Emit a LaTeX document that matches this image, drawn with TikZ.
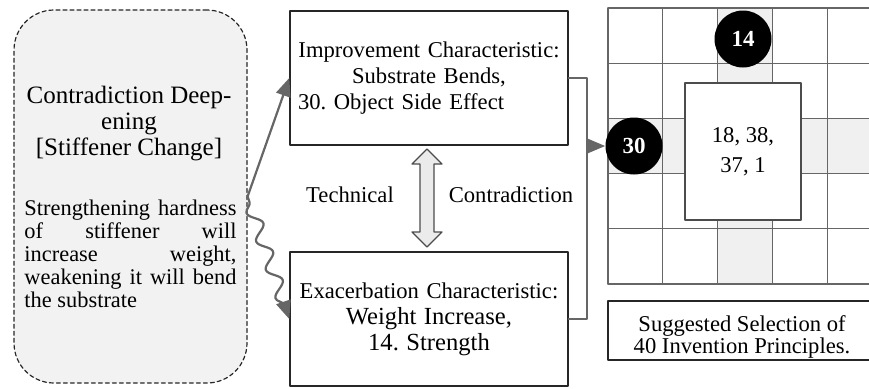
\documentclass[tikz,border=0pt]{standalone}
\usepackage{fontspec}
\setmainfont{Liberation Serif}
\frenchspacing
\usetikzlibrary{arrows,decorations.pathmorphing,calc}

\begin{document}
\begin{tikzpicture}[line cap=round,line join=round,>=triangle 45,x=0.5pt,y=-0.5pt,
  box/.style={draw=black!85,line width=0.7pt,inner sep=4pt,text width=131pt,minimum height=67pt,align=center,font=\fontsize{11.3}{13}\selectfont},
  conn/.style={draw=black!60,line width=1.1pt},
  cell/.style={draw=black!60,line width=0.6pt},
  badge/.style={circle,fill=black,text=white,minimum size=28.5pt,inner sep=0pt,font=\fontsize{11.5}{12}\selectfont\bfseries}]
\useasboundingbox (0,0) rectangle (869,388);
\clip (0,0) rectangle (869,388);
\node[draw=black!85,fill=black!5,line width=0.6pt,dash pattern=on 2pt off 1.5pt,rounded corners=20pt,minimum width=116.5pt,minimum height=186.5pt] (src) at (130.5,196.5) {};
\node[align=center,font=\fontsize{12.5}{13}\selectfont] (srctitle) at (129,123.5) {Contradiction Deep-\\ening\\{[}Stiffener Change{]}};
\node[text width=106pt,align=justify,inner sep=0pt,font=\fontsize{11.2}{11.5}\selectfont] (srcbody) at (130.5,254) {Strengthening hardness\linebreak of stiffener will\linebreak increase weight,\linebreak weakening it will bend\linebreak the substrate};
\node[box] (imp) at (429,78) {Improvement Characteristic:\\Substrate Bends,\\\makebox[131pt][l]{30. Object Side Effect}};
\node[box] (exa) at (429,319) {Exacerbation Characteristic:\\{\fontsize{12.3}{14}\selectfont Weight Increase,}\\{\fontsize{12.3}{14}\selectfont 14. Strength}};
\node[font=\fontsize{11.3}{13}\selectfont] (tech) at (350,195) {Technical};
\node[font=\fontsize{11.3}{13}\selectfont] (contr) at (511,195) {Contradiction};
\coordinate (mid) at (427,198);
\draw[draw=black!70,fill=black!8,line width=0.6pt] ($(mid)+(0,-49)$) -- ++(15,15) -- ++(-8,0) -- ++(0,68) -- ++(8,0) -- ++(-15,15) -- ++(-15,-15) -- ++(8,0) -- ++(0,-68) -- ++(-8,0) -- cycle;
\fill[black!6] (717.6,8) rectangle (772.4,284);
\fill[black!6] (608,118.4) rectangle (882,173.6);
\foreach \i in {0,...,5} {
  \draw[cell] (608+54.8*\i,8) -- (608+54.8*\i,284);
  \draw[cell] (608,8+55.2*\i) -- (882,8+55.2*\i);
}
\node[draw=black!70,fill=white,line width=0.6pt,minimum width=58pt,minimum height=68.5pt,align=center,font=\fontsize{11.3}{15}\selectfont] (core) at (743,151.5) {18, 38,\\37, 1};
\node[badge] (c14) at (743,39) {14};
\node[badge] (c30) at (634,146) {30};
\coordinate (join) at (587,146);
\draw[conn] (imp.east) -| (join) |- (exa.east);
\draw[conn,->] (join) -- (c30);
\draw[conn,->] (src.east) -- (imp.west);
\draw[conn,->,decorate,decoration={snake,mirror,amplitude=3.2pt,segment length=15pt,pre length=3pt,post length=5pt}] (src.east) -- (exa.west);
\node[draw=black!85,line width=0.7pt,minimum width=138pt,minimum height=29.5pt] (sugg) at (746,330.5) {};
\node[align=center,font=\fontsize{11.3}{9.5}\selectfont] (suggtxt) at (742,337) {Suggested Selection of\\40 Invention Principles.};
\end{tikzpicture}
\end{document}
